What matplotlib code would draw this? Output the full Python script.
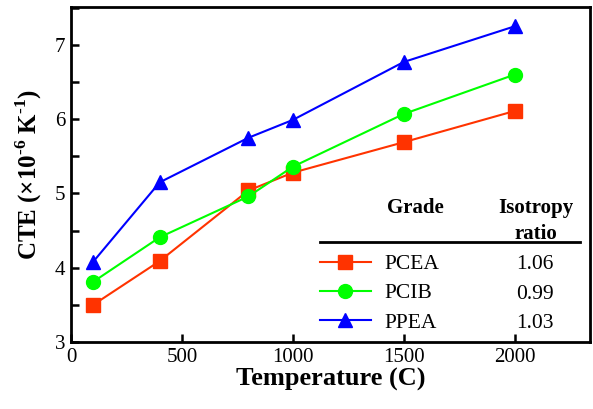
import matplotlib
matplotlib.use("Agg")
import matplotlib.pyplot as plt
from matplotlib.ticker import MultipleLocator

plt.rcParams['font.family'] = ['Liberation Serif', 'DejaVu Serif']
plt.rcParams['mathtext.fontset'] = 'custom'
plt.rcParams['mathtext.rm'] = 'Liberation Serif:bold'
plt.rcParams['mathtext.bf'] = 'Liberation Serif:bold'

temps = [100, 400, 800, 1000, 1500, 2000]
pcea = [3.50, 4.09, 5.04, 5.28, 5.69, 6.11]
pcib = [3.81, 4.41, 4.96, 5.36, 6.07, 6.60]
ppea = [4.08, 5.15, 5.75, 5.99, 6.77, 7.25]

grades = ['PCEA', 'PCIB', 'PPEA']
ratios = ['1.06', '0.99', '1.03']
colors = ['#ff3300', '#00ff00', '#0000ff']
markers = ['s', 'o', '^']
msizes = [9.5, 10, 10.5]

fig = plt.figure(figsize=(5.93, 4.09), dpi=100)
ax = fig.add_axes([0.1197, 0.1638, 0.8753, 0.819])

handles = []
for ys, c, m, ms, g in zip([pcea, pcib, ppea], colors, markers, msizes, grades):
    h, = ax.plot(temps, ys, color=c, marker=m, markersize=ms, lw=1.5,
                 markeredgecolor=c, label=g, clip_on=False)
    handles.append(h)

ax.set_xlim(0, 2340)
ax.set_ylim(3, 7.51)
ax.xaxis.set_major_locator(MultipleLocator(500))
ax.yaxis.set_major_locator(MultipleLocator(1))
ax.yaxis.set_minor_locator(MultipleLocator(0.5))
ax.tick_params(direction='in', length=6, width=1.8, labelsize=15, pad=4)
ax.tick_params(which='minor', direction='in', length=6, width=1.8)
for s in ax.spines.values():
    s.set_linewidth(2)

ax.set_xlabel('Temperature (C)', fontsize=19, fontweight='bold', labelpad=1)
ax.set_ylabel(r'CTE (×10$^{\text{-6}}$ K$^{\text{-1}}$)', fontsize=18,
              fontweight='bold', labelpad=8)

leg = ax.legend(handles=handles, loc='upper left', bbox_to_anchor=(0.479, 0.262),
                frameon=False, fontsize=15.5, handlelength=2.4, handletextpad=0.6,
                labelspacing=0.42, borderaxespad=0, borderpad=0)

# table header and ratio column
ax.text(0.663, 0.40, 'Grade', transform=ax.transAxes, ha='center', va='center',
        fontsize=15, fontweight='bold')
ax.text(0.895, 0.40, 'Isotropy', transform=ax.transAxes, ha='center', va='center',
        fontsize=15, fontweight='bold')
ax.text(0.895, 0.322, 'ratio', transform=ax.transAxes, ha='center', va='center',
        fontsize=15, fontweight='bold')
ax.plot([0.48, 0.981], [0.2985, 0.2985], transform=ax.transAxes, color='black', lw=2)
row_y = [0.232, 0.142, 0.056]
for r, yy in zip(ratios, row_y):
    ax.text(0.893, yy, r, transform=ax.transAxes, ha='center', va='center', fontsize=15.5)

fig.savefig('out.png', dpi=100)
